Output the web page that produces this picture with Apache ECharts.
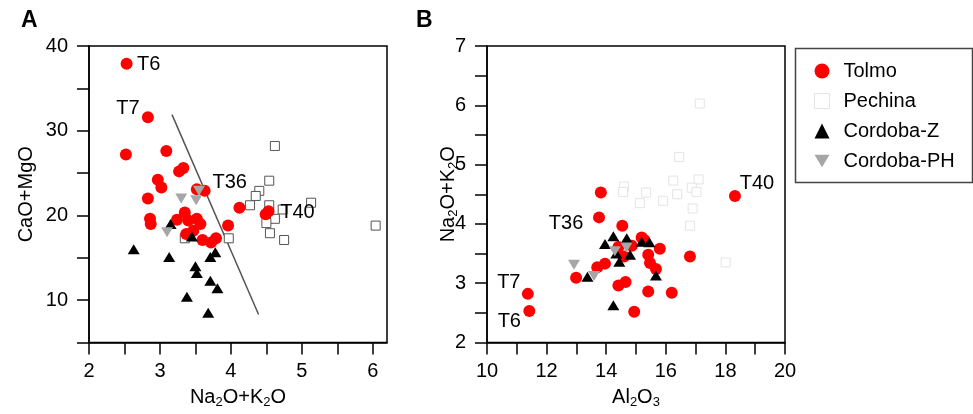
<!DOCTYPE html>
<html><head><meta charset="utf-8">
<script src="https://cdn.jsdelivr.net/npm/echarts@6/dist/echarts.min.js"></script>
<style>html,body{margin:0;padding:0;background:#fff}#c{width:973px;height:414px}</style>
</head><body><div id="c"></div>
<script>
// ---------- Panel A: Na2O+K2O (x) vs CaO+MgO (y) ----------
const tolmoA = [[2.53,37.9],[2.83,31.6],[2.52,27.2],[3.09,27.6],[3.27,25.2],[3.33,25.6],[2.97,24.2],[3.02,23.3],
  [3.52,23.1],[3.63,22.9],[2.83,22.0],[2.86,19.6],[2.87,19.0],[3.35,20.35],[3.24,19.5],[3.40,19.4],[3.52,19.6],
  [3.57,19.0],[3.37,17.8],[3.47,18.2],[3.60,17.1],[3.72,16.8],[3.79,17.3],[3.96,18.8],[4.12,20.9],[4.49,20.15],[4.53,20.5]];
const pechinaA = [[3.35,17.3],[3.97,17.3],[4.62,28.2],[4.54,24.1],[4.40,22.9],[4.35,22.3],[4.27,21.2],[4.54,21.2],
  [4.73,20.7],[5.13,21.5],[4.62,19.6],[4.50,19.1],[4.55,17.9],[4.75,17.1],[6.04,18.8]];
const cordobaZA = [[2.63,16.0],[3.15,19.0],[3.45,17.5],[3.78,15.65],[3.71,15.1],[3.13,15.1],[3.50,14.0],[3.52,13.2],
  [3.71,12.3],[3.81,11.4],[3.38,10.4],[3.68,8.5]];
const cordobaPHA = [[3.30,22.0],[3.51,21.8],[3.55,22.9],[3.10,18.0]];
const lineA = [[3.17,31.9],[4.39,8.3]];
const labelNamesA = ['T6','T7','T36','T40'];
const labelIdxA = [0,1,9,26];
const xTicksA = [2,2.5,3,3.5,4,4.5,5,5.5,6];
const xLabelsA = [2,3,4,5,6];
const yTicksA = [5,10,15,20,25,30,35,40];
const yLabelsA = [10,20,30,40];

// ---------- Panel B: Al2O3 (x) vs Na2O+K2O (y) ----------
const tolmoB = [[11.42,2.53],[11.37,2.82],[13.76,4.11],[18.32,4.47],[13.82,4.53],[14.54,3.97],[15.19,3.77],[15.80,3.58],
  [15.41,3.48],[15.47,3.34],[15.67,3.24],[13.96,3.33],[13.70,3.27],[12.99,3.09],[14.41,2.96],[14.65,3.02],[15.41,2.86],
  [14.94,2.52],[16.81,3.45],[16.20,2.84],[14.41,3.61],[14.60,3.45],[14.86,3.63],[15.28,3.73]];
const pechinaB = [[17.14,6.03],[16.45,5.13],[16.25,4.73],[17.10,4.75],[16.87,4.61],[17.03,4.54],[16.38,4.50],[15.91,4.39],
  [15.34,4.53],[15.13,4.35],[14.60,4.63],[14.57,4.54],[16.90,4.26],[16.81,3.97],[18.01,3.35]];
const cordobaZB = [[14.24,3.79],[14.69,3.76],[13.96,3.66],[15.19,3.70],[15.45,3.69],[14.80,3.48],[14.44,3.36],
  [14.34,3.50],[13.37,3.11],[15.67,3.13],[14.24,2.63]];
const cordobaPHB = [[12.92,3.31],[13.59,3.12],[14.29,3.54],[14.68,3.60]];
const labelNamesB = ['T6','T7','T36','T40'];
const labelIdxB = [0,1,2,3];
const xTicksB = [10,11,12,13,14,15,16,17,18,19,20];
const xLabelsB = [10,12,14,16,18,20];
const yTicksB = [2,2.5,3,3.5,4,4.5,5,5.5,6,6.5,7];
const yLabelsB = [2,3,4,5,6,7];

const seriesNames = ['Tolmo','Pechina','Cordoba-Z','Cordoba-PH'];

// ---------- styling ----------
const FONT = '"Liberation Sans", Arial, Helvetica, sans-serif';
const labelOffsetsA = [[22,1],[-20,-9],[25,-8],[29,1]];
const labelOffsetsB = [[-20,10],[-19,-11],[-33,6],[22,-13]];
const downTriangle = 'path://M0,0 L12,0 L6,10 Z';

function withLabels(arr, idx, names, offs) {
  return arr.map((p, i) => {
    const k = idx.indexOf(i);
    if (k < 0) return { value: p };
    return { value: p, label: { show: true, formatter: names[k], position: 'inside', offset: offs[k],
      fontSize: 20, fontFamily: FONT, color: '#000', opacity: 1 } };
  });
}

const subRich = { s: { fontSize: 13, lineHeight: 13, padding: [10, 0, 0, 0], fontFamily: FONT, color: '#000' } };
const nameStyle = { fontSize: 20, fontFamily: FONT, color: '#000', rich: subRich };

function axisCommon(ticks, labels, margin) {
  return {
    type: 'value',
    axisLine: { show: true, onZero: false, lineStyle: { color: '#000', width: 1.5 } },
    axisTick: { show: true, inside: false, customValues: ticks, length: 12, lineStyle: { color: '#000', width: 1.5 } },
    axisLabel: { customValues: labels, margin: margin, fontSize: 20, fontFamily: FONT, color: '#000' },
    splitLine: { show: false },
    nameLocation: 'middle',
    nameMoveOverlap: false,
    nameTextStyle: nameStyle
  };
}

const chart = echarts.init(document.getElementById('c'), null, { renderer: 'canvas' });
const option = {
  animation: false,
  backgroundColor: '#fff',
  grid: [
    { left: 89, top: 46, width: 298, height: 298, show: true, borderColor: '#000', borderWidth: 1.5 },
    { left: 487, top: 46, width: 298, height: 298, show: true, borderColor: '#000', borderWidth: 1.5 }
  ],
  xAxis: [
    Object.assign(axisCommon(xTicksA, xLabelsA, 19), { gridIndex: 0, min: 2, max: 6.2, interval: 0.5,
      name: 'Na{s|2}O+K{s|2}O', nameGap: 45 }),
    Object.assign(axisCommon(xTicksB, xLabelsB, 19), { gridIndex: 1, min: 10, max: 20, interval: 1,
      name: 'Al{s|2}O{s|3}', nameGap: 45 })
  ],
  yAxis: [
    Object.assign(axisCommon(yTicksA, yLabelsA, 21), { gridIndex: 0, min: 5, max: 40, interval: 5,
      name: 'CaO+MgO', nameGap: 53 }),
    Object.assign(axisCommon(yTicksB, yLabelsB, 21), { gridIndex: 1, min: 2, max: 7, interval: 0.5,
      name: 'Na{s|2}O+K{s|2}O', nameGap: 29 })
  ],
  legend: {
    orient: 'vertical', left: 809, top: 56, itemWidth: 15, itemHeight: 15, itemGap: 10,
    textStyle: { fontSize: 20, fontFamily: FONT, color: '#000', padding: [0, 0, 0, 9] },
    data: [
      { name: seriesNames[0], icon: 'circle', itemStyle: { color: '#ff0000', opacity: 1 } },
      { name: seriesNames[1], icon: 'rect', itemStyle: { color: '#fff', borderColor: '#e4e4e4', borderWidth: 1, opacity: 1 } },
      { name: seriesNames[2], icon: 'triangle', itemStyle: { color: '#000', opacity: 1 } },
      { name: seriesNames[3], icon: downTriangle, itemStyle: { color: '#a6a6a6', opacity: 1 } }
    ]
  },
  graphic: [
    { type: 'text', left: 21, top: 9, style: { text: 'A', font: 'bold 23px ' + FONT, fill: '#000' } },
    { type: 'text', left: 416, top: 9, style: { text: 'B', font: 'bold 23px ' + FONT, fill: '#000' } },
    { type: 'rect', left: 793, top: 46, shape: { width: 177, height: 134 },
      style: { fill: 'none', stroke: '#444', lineWidth: 1.5 } }
  ],
  series: [
    { type: 'line', xAxisIndex: 0, yAxisIndex: 0, data: lineA, symbol: 'none', silent: true,
      lineStyle: { color: '#555', width: 1.5 }, z: 1 },
    { name: seriesNames[1], type: 'scatter', xAxisIndex: 0, yAxisIndex: 0, data: pechinaA, symbol: 'rect', symbolSize: 9,
      itemStyle: { color: '#fff', borderColor: '#555', borderWidth: 1, opacity: 1 }, z: 2 },
    { name: seriesNames[0], type: 'scatter', xAxisIndex: 0, yAxisIndex: 0,
      data: withLabels(tolmoA, labelIdxA, labelNamesA, labelOffsetsA), symbol: 'circle', symbolSize: 12,
      itemStyle: { color: '#ff0000', opacity: 1 }, z: 3 },
    { name: seriesNames[2], type: 'scatter', xAxisIndex: 0, yAxisIndex: 0, data: cordobaZA, symbol: 'triangle', symbolSize: [12, 10],
      itemStyle: { color: '#000', opacity: 1 }, z: 4 },
    { name: seriesNames[3], type: 'scatter', xAxisIndex: 0, yAxisIndex: 0, data: cordobaPHA, symbol: 'triangle', symbolSize: [12, 10],
      symbolRotate: 180, itemStyle: { color: '#a6a6a6', opacity: 1 }, z: 4 },

    { name: seriesNames[1], type: 'scatter', xAxisIndex: 1, yAxisIndex: 1, data: pechinaB, symbol: 'rect', symbolSize: 9,
      itemStyle: { color: '#fff', borderColor: '#e4e4e4', borderWidth: 1, opacity: 1 }, z: 2 },
    { name: seriesNames[0], type: 'scatter', xAxisIndex: 1, yAxisIndex: 1,
      data: withLabels(tolmoB, labelIdxB, labelNamesB, labelOffsetsB), symbol: 'circle', symbolSize: 12,
      itemStyle: { color: '#ff0000', opacity: 1 }, z: 3 },
    { name: seriesNames[2], type: 'scatter', xAxisIndex: 1, yAxisIndex: 1, data: cordobaZB, symbol: 'triangle', symbolSize: [12, 10],
      itemStyle: { color: '#000', opacity: 1 }, z: 4 },
    { name: seriesNames[3], type: 'scatter', xAxisIndex: 1, yAxisIndex: 1, data: cordobaPHB, symbol: 'triangle', symbolSize: [12, 10],
      symbolRotate: 180, itemStyle: { color: '#a6a6a6', opacity: 1 }, z: 4 }
  ]
};
chart.setOption(option);
</script>
</body></html>
